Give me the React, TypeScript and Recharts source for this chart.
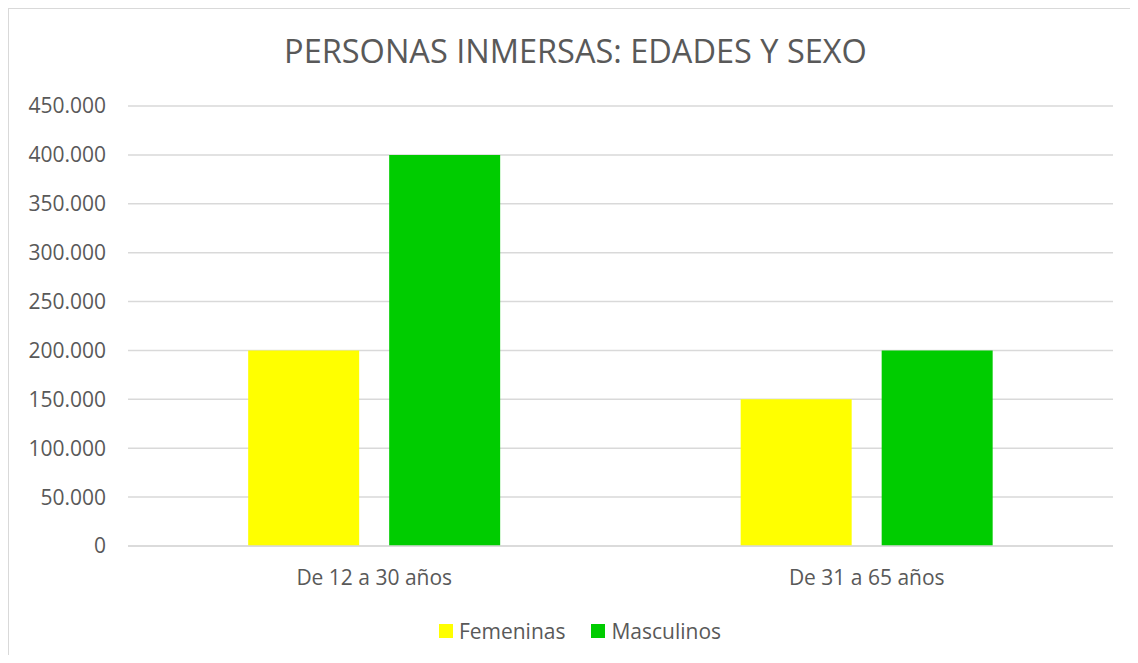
import React from 'react';
import { BarChart, Bar, XAxis, YAxis, CartesianGrid, Legend } from 'recharts';

const categories = ['De 12 a 30 años', 'De 31 a 65 años'];
const femeninas = [200000, 150000];
const masculinos = [400000, 200000];
const yTicks = [0, 50000, 100000, 150000, 200000, 250000, 300000, 350000, 400000, 450000];

const data = categories.map((name, i) => ({
  name,
  Femeninas: femeninas[i],
  Masculinos: masculinos[i],
}));

const TEXT = '#595959';
const FONT = '"Open Sans", sans-serif';

const fmt = (v: number) => String(v).replace(/\B(?=(\d{3})+(?!\d))/g, '.');

const LegendBox = ({ payload }: any) => (
  <div style={{ display: 'flex', justifyContent: 'center', alignItems: 'center', fontFamily: FONT, fontSize: 21, color: TEXT, marginLeft: 38 }}>
    {(payload || []).map((p: any, i: number) => (
      <div key={i} style={{ display: 'flex', alignItems: 'center', marginRight: i === 0 ? 26 : 0 }}>
        <span style={{ width: 14, height: 14, background: p.color, display: 'inline-block', marginRight: 6 }} />
        <span>{p.value}</span>
      </div>
    ))}
  </div>
);

export default function App() {
  return (
    <div
      style={{
        position: 'relative',
        width: 1121,
        height: 646,
        borderLeft: '1px solid #d9d9d9',
        borderTop: '1px solid #d9d9d9',
        background: '#fff',
        fontFamily: FONT,
      }}
    >
      <div
        style={{
          position: 'absolute',
          top: 20,
          left: 6,
          width: 1121,
          textAlign: 'center',
          fontSize: 32.5,
          color: TEXT,
          lineHeight: '44px',
        }}
      >
        PERSONAS INMERSAS: EDADES Y SEXO
      </div>
      <BarChart
        width={1121}
        height={646}
        data={data}
        margin={{ top: 97, right: 17, left: 0, bottom: 41 }}
        barCategoryGap="24.4%"
        barGap={30}
      >
        <CartesianGrid vertical={false} stroke="#d9d9d9" strokeWidth={1.5} />
        <XAxis
          dataKey="name"
          axisLine={{ stroke: '#d9d9d9', strokeWidth: 1.5 }}
          tickLine={false}
          tick={{ fill: TEXT, fontSize: 21, fontFamily: FONT }}
          tickMargin={18}
          height={40}
        />
        <YAxis
          domain={[0, 450000]}
          ticks={yTicks}
          tickFormatter={fmt}
          axisLine={false}
          tickLine={false}
          tick={{ fill: TEXT, fontSize: 21, fontFamily: FONT }}
          tickMargin={16}
          width={119}
        />
        <Legend verticalAlign="bottom" content={<LegendBox />} wrapperStyle={{ bottom: 10 }} />
        <Bar dataKey="Femeninas" fill="#ffff00" isAnimationActive={false} />
        <Bar dataKey="Masculinos" fill="#00cc00" isAnimationActive={false} />
      </BarChart>
    </div>
  );
}
